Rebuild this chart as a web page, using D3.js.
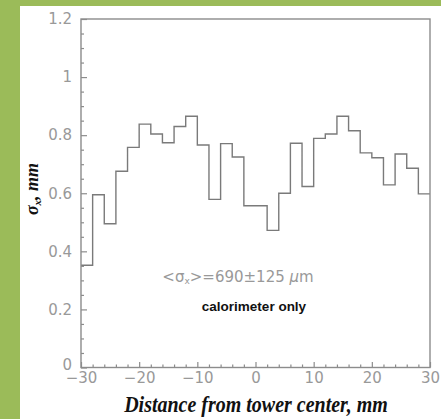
<!DOCTYPE html>
<html>
<head>
<meta charset="utf-8">
<script src="https://cdn.jsdelivr.net/npm/d3@7"></script>
<style>
  html, body { margin: 0; padding: 0; background: #9bbb59; }
  svg { display: block; }
</style>
</head>
<body>
<svg id="chart" width="441" height="419"></svg>
<script>
// Bin left edges (mm) and sigma_x values (mm)
const binEdges = [-30,-28,-26,-24,-22,-20,-18,-16,-14,-12,-10,-8,-6,-4,-2,0,2,4,6,8,10,12,14,16,18,20,22,24,26,28];
const sigmaX = [0.352,0.595,0.495,0.676,0.758,0.838,0.804,0.774,0.830,0.865,
                0.766,0.579,0.771,0.725,0.557,0.557,0.472,0.600,0.772,0.623,
                0.789,0.804,0.865,0.815,0.739,0.722,0.629,0.735,0.686,0.598];
const binWidth = 2;
const xMajorTicks = [-30,-20,-10,0,10,20,30];
const yMajorTicks = [0,0.2,0.4,0.6,0.8,1,1.2];
const annotationText = "=690±125 ";
const noteText = "calorimeter only";
const xTitle = "Distance from tower center, mm";

const svg = d3.select("#chart");
const W = 441, H = 419;

// white panel
svg.append("rect").attr("x", 20).attr("y", 6).attr("width", W - 20).attr("height", H - 6).attr("fill", "#ffffff");

const x = d3.scaleLinear().domain([-30, 30]).range([81, 430]);
const y = d3.scaleLinear().domain([0, 1.2]).range([367.5, 19]);

const frameColor = "#8c8c8c";
const labelColor = "#999999";
const fontSans = "'DejaVu Sans', Verdana, sans-serif";
const fontSerif = "'Liberation Serif', 'Times New Roman', serif";

// minor ticks
const xMinor = d3.range(-30, 30.001, 2).filter(v => Math.abs(v % 10) > 1e-6);
const yMinor = d3.range(0, 1.2001, 0.05).filter(v => Math.abs(Math.round(v * 100) % 20) > 1e-6);

const xMinorAxis = d3.axisBottom(x).tickValues(xMinor).tickSize(-3).tickFormat("");
const yMinorAxis = d3.axisLeft(y).tickValues(yMinor).tickSize(-3).tickFormat("");
const xAxis = d3.axisBottom(x).tickValues(xMajorTicks).tickSize(-5.5).tickPadding(4.5).tickFormat(d3.format("~g"));
const yAxis = d3.axisLeft(y).tickValues(yMajorTicks).tickSize(-6).tickPadding(9).tickFormat(d3.format("~g"));

function styleAxis(g) {
  g.select(".domain").remove();
  g.selectAll("line").attr("stroke", frameColor).attr("stroke-width", 1.2);
  g.selectAll("text").attr("fill", labelColor).attr("font-family", fontSans).attr("font-size", 15);
}

svg.append("g").attr("transform", `translate(0,${y(0)})`).call(xMinorAxis).call(styleAxis);
svg.append("g").attr("transform", `translate(${x(-30)},0)`).call(yMinorAxis).call(styleAxis);
svg.append("g").attr("transform", `translate(0,${y(0)})`).call(xAxis).call(styleAxis);
const yg = svg.append("g").attr("transform", `translate(${x(-30)},0)`).call(yAxis).call(styleAxis);
// the "0" label sits just above the x labels, as in the original
yg.selectAll(".tick").filter(d => d === 0).select("text").attr("dy", "0.12em");

// histogram outline
const pts = binEdges.map((e, i) => [e, sigmaX[i]]);
pts.push([binEdges[binEdges.length - 1] + binWidth, sigmaX[sigmaX.length - 1]]);
const line = d3.line().x(d => x(d[0])).y(d => y(d[1])).curve(d3.curveStepAfter);
svg.append("path")
  .attr("d", line(pts))
  .attr("fill", "none")
  .attr("stroke", "#7a7a7a")
  .attr("stroke-width", 1.4);

// frame
svg.append("rect")
  .attr("x", x(-30)).attr("y", y(1.2))
  .attr("width", x(30) - x(-30)).attr("height", y(0) - y(1.2))
  .attr("fill", "none").attr("stroke", frameColor).attr("stroke-width", 1.4);

// annotation
const ann = svg.append("text")
  .attr("x", 238).attr("y", 282)
  .attr("text-anchor", "middle")
  .attr("font-family", fontSans).attr("font-size", 15)
  .attr("fill", labelColor);
ann.append("tspan").text("<σ");
ann.append("tspan").attr("font-size", 9).attr("dy", 2).text("x");
ann.append("tspan").attr("dy", -2).text(">" + annotationText);
ann.append("tspan").attr("font-style", "italic").text("μ");
ann.append("tspan").text("m");

svg.append("text")
  .attr("x", 254).attr("y", 311)
  .attr("text-anchor", "middle")
  .attr("font-family", "'Liberation Sans', Arial, sans-serif").attr("font-size", 13.5).attr("font-weight", "bold")
  .attr("fill", "#111")
  .text(noteText);

// x title
svg.append("text")
  .attr("transform", "translate(256,412) scale(1,1.2)")
  .attr("text-anchor", "middle")
  .attr("font-family", fontSerif)
  .attr("font-size", 20).attr("font-weight", "bold").attr("font-style", "italic")
  .attr("fill", "#111")
  .text(xTitle);

// y title
const yt = svg.append("text")
  .attr("transform", "translate(38,189) rotate(-90)")
  .attr("text-anchor", "middle")
  .attr("font-family", fontSerif)
  .attr("font-size", 18).attr("font-weight", "bold").attr("font-style", "italic")
  .attr("fill", "#111");
yt.append("tspan").text("σ");
yt.append("tspan").attr("font-size", 11).attr("dy", 3).text("x");
yt.append("tspan").attr("dy", -3).text(", mm");
</script>
</body>
</html>
